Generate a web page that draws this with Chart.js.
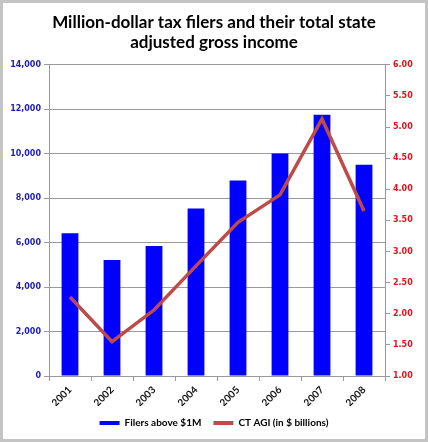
<!DOCTYPE html>
<html>
<head>
<meta charset="utf-8">
<script src="https://cdn.jsdelivr.net/npm/chart.js@4.4.0/dist/chart.umd.min.js"></script>
<style>
  html, body { margin: 0; padding: 0; background: #fff; }
  #wrap { width: 428px; height: 442px; }
</style>
</head>
<body>
<div id="wrap"><canvas id="chart" width="428" height="442"></canvas></div>
<script>
// data
const years = ['2001', '2002', '2003', '2004', '2005', '2006', '2007', '2008'];
const filers = [6420, 5220, 5850, 7540, 8800, 10010, 11750, 9500];
const agiBillions = [2.27, 1.55, 2.06, 2.77, 3.47, 3.91, 5.13, 3.65];

const blue = '#0000FF';
const red = '#BE4B48';
const gridGray = '#9a9a9a';

// white background and grey frame like the exported picture
const framePlugin = {
  id: 'frame',
  beforeDraw(chart) {
    const ctx = chart.ctx;
    ctx.save();
    ctx.fillStyle = '#fff';
    ctx.fillRect(0, 0, chart.width, chart.height);
    ctx.strokeStyle = '#c4c4c4';
    ctx.lineWidth = 3;
    ctx.strokeRect(1.5, 1.5, chart.width - 3, chart.height - 3);
    ctx.restore();
  }
};

const ctx = document.getElementById('chart').getContext('2d');

new Chart(ctx, {
  type: 'bar',
  data: {
    labels: years,
    datasets: [
      {
        label: 'Filers above $1M',
        data: filers,
        backgroundColor: blue,
        borderWidth: 0,
        categoryPercentage: 1,
        barPercentage: 0.4,
        yAxisID: 'y',
        order: 2
      },
      {
        type: 'line',
        label: 'CT AGI (in $ billions)',
        data: agiBillions,
        borderColor: red,
        backgroundColor: red,
        borderWidth: 3.5,
        pointRadius: 0,
        tension: 0,
        yAxisID: 'y1',
        order: 1
      }
    ]
  },
  options: {
    responsive: false,
    animation: false,
    layout: { padding: { left: 4, right: 4, top: 10, bottom: 4 } },
    plugins: {
      title: {
        display: true,
        text: ['Million-dollar tax filers and their total state', 'adjusted gross income'],
        color: '#000',
        font: { family: 'Lato', size: 17, weight: 'bold', lineHeight: 1.2 },
        padding: { top: 2, bottom: 12 }
      },
      legend: {
        position: 'bottom',
        labels: {
          boxWidth: 20,
          boxHeight: 4,
          padding: 12,
          color: '#000',
          font: { family: 'Lato', size: 10, weight: 'bold' },
          sort: (a, b) => a.datasetIndex - b.datasetIndex,
          generateLabels(chart) {
            return Chart.defaults.plugins.legend.labels.generateLabels(chart).map(item => {
              const ds = chart.data.datasets[item.datasetIndex];
              item.fillStyle = ds.type === 'line' ? ds.borderColor : ds.backgroundColor;
              item.strokeStyle = item.fillStyle;
              item.lineWidth = 0;
              return item;
            });
          }
        }
      },
      tooltip: { enabled: false }
    },
    scales: {
      x: {
        grid: {
          drawOnChartArea: false,
          drawTicks: true,
          tickLength: 5,
          color: gridGray,
          offset: true
        },
        border: { color: gridGray },
        ticks: {
          minRotation: 45,
          maxRotation: 45,
          color: '#111',
          font: { family: 'Lato', size: 10, weight: 'bold' }
        },
        afterFit(scale) { scale.height = 30; }
      },
      y: {
        position: 'left',
        min: 0,
        max: 14000,
        ticks: {
          stepSize: 2000,
          color: '#1c1cb4',
          font: { family: 'DejaVu Sans', size: 8, weight: 'bold' },
          callback: v => v.toLocaleString('en-US')
        },
        grid: { color: gridGray, tickLength: 5 },
        border: { color: gridGray },
        afterFit(scale) { scale.width = 45; }
      },
      y1: {
        position: 'right',
        min: 1,
        max: 6,
        ticks: {
          stepSize: 0.5,
          color: '#e0141e',
          font: { family: 'DejaVu Sans', size: 8, weight: 'bold' },
          callback: v => v.toFixed(2)
        },
        grid: { drawOnChartArea: false, color: gridGray, tickLength: 5 },
        border: { color: gridGray },
        afterFit(scale) { scale.width = 39; }
      }
    }
  },
  plugins: [framePlugin]
});
</script>
</body>
</html>
